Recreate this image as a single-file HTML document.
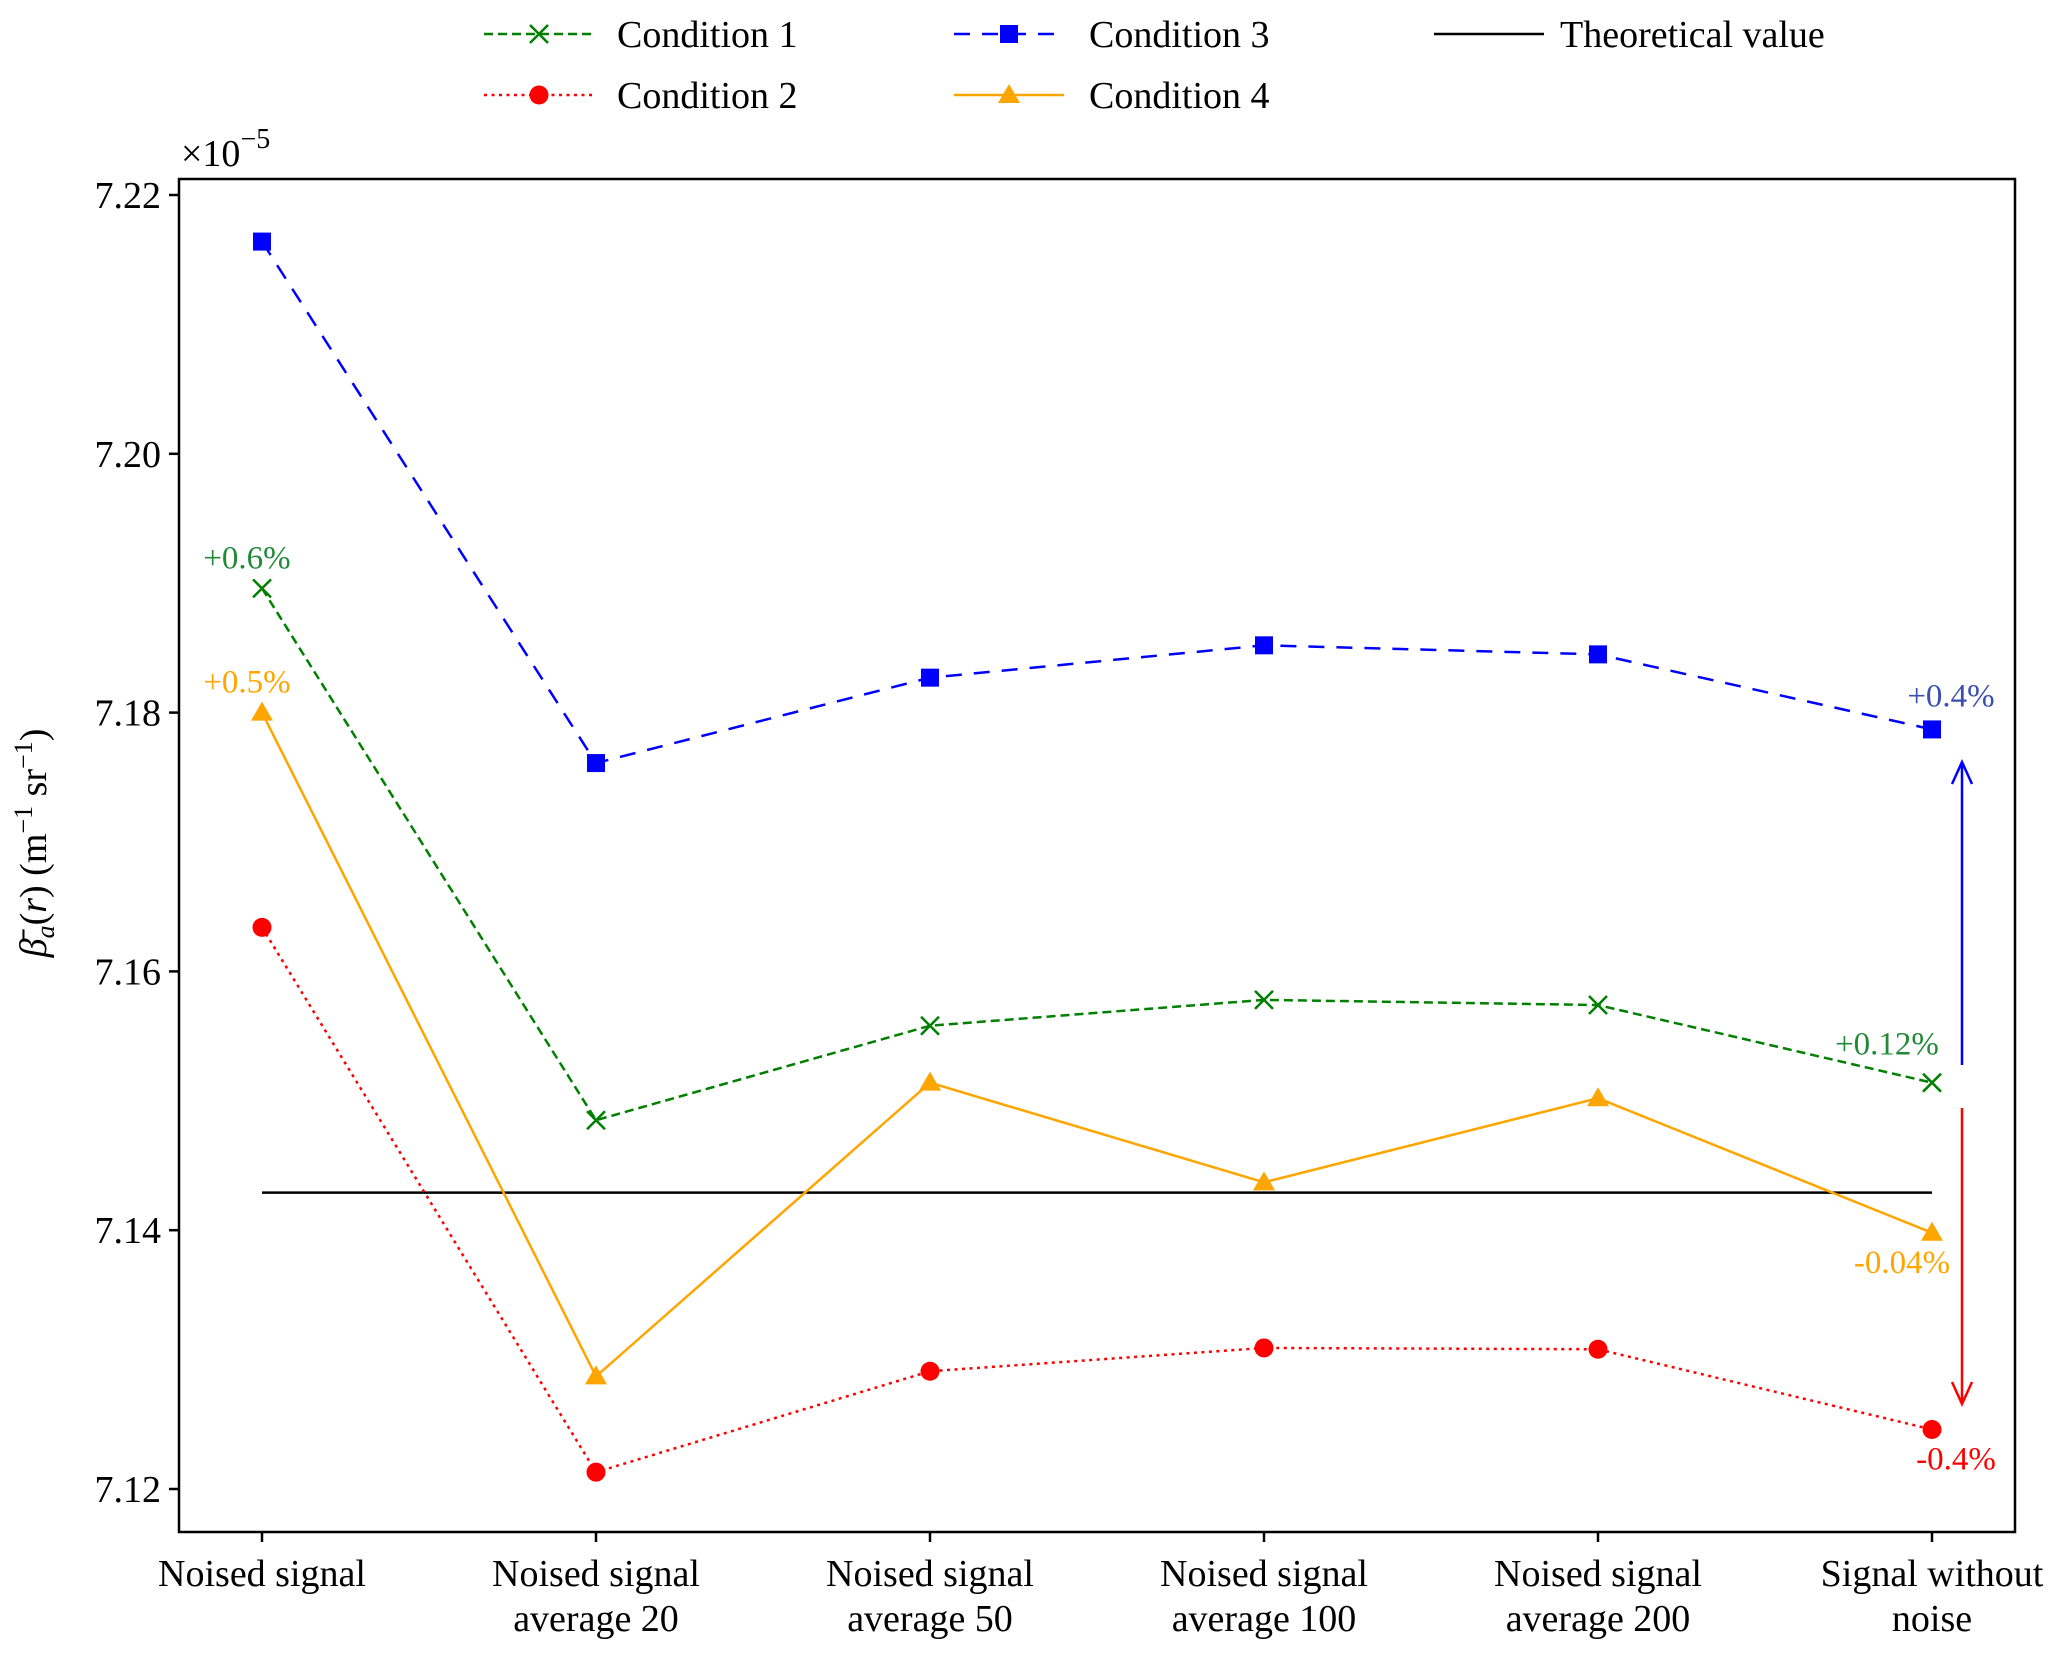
<!DOCTYPE html>
<html><head><meta charset="utf-8"><style>
html,body{margin:0;padding:0;background:#fff;}
svg{display:block;font-family:"Liberation Serif","DejaVu Serif",serif;}
</style></head><body>
<svg id="chart" width="2067" height="1656" viewBox="0 0 2067 1656" xmlns="http://www.w3.org/2000/svg">
<g id="plot"></g>
</svg>
<script>
const categories = ["Noised signal|", "Noised signal|average 20", "Noised signal|average 50", "Noised signal|average 100", "Noised signal|average 200", "Signal without|noise"];
const cond1 = [7.1896, 7.1485, 7.1558, 7.1578, 7.1574, 7.1514];
const cond2 = [7.1634, 7.1213, 7.1291, 7.1309, 7.1308, 7.1246];
const cond3 = [7.2164, 7.1761, 7.1827, 7.1852, 7.1845, 7.1787];
const cond4 = [7.1800, 7.1287, 7.1514, 7.1437, 7.1502, 7.1398];
const theoretical = 7.1429;
const yTicks = [7.12, 7.14, 7.16, 7.18, 7.20, 7.22];
const yTickLabels = ["7.12", "7.14", "7.16", "7.18", "7.20", "7.22"];

const NS = "http://www.w3.org/2000/svg";
const svg = document.getElementById("chart");
const L = 179, R = 2015, T = 179, B = 1532;
function x(i){ return 262 + i * 334; }
function y(v){ return 1489 - (v - 7.12) / 0.1 * 1294; }
function mk(tag, attrs, parent){
  const e = document.createElementNS(NS, tag);
  for (const k in attrs) e.setAttribute(k, attrs[k]);
  (parent || svg).appendChild(e);
  return e;
}
const frame = mk("rect", {x:L, y:T, width:R-L, height:B-T, fill:"none", stroke:"#000", "stroke-width":2.5});


yTicks.forEach((v, i) => {
  const t = mk("line", {x1:L-10, x2:L, y1:y(v), y2:y(v), stroke:"#000", "stroke-width":2.5});
  
  
  const lb = mk("text", {x:L-18, y:y(v)+13, "font-size":38, "text-anchor":"end"});
  lb.textContent = yTickLabels[i];
  
  
});
categories.forEach((c, i) => {
  const t = mk("line", {x1:x(i), x2:x(i), y1:B, y2:B+10, stroke:"#000", "stroke-width":2.5});
  
  
  const parts = c.split("|");
  parts.forEach((p, j) => {
    if (!p) return;
    const lb = mk("text", {x:x(i), y:1586 + j*45, "font-size":38, "text-anchor":"middle"});
    lb.textContent = p;
    
    
  });
});
const off = mk("text", {x:181, y:166, "font-size":38});
off.innerHTML = '×10<tspan dy="-18" font-size="28">−5</tspan>';


const yt = mk("text", {x:0, y:0, "font-size":38, "text-anchor":"middle", transform:"translate(46,843) rotate(-90)"});
yt.innerHTML = '<tspan font-style="italic">β̄</tspan><tspan font-style="italic" font-size="26" dy="8">a</tspan><tspan dy="-8">(</tspan><tspan font-style="italic">r</tspan>) (m<tspan dy="-14" font-size="26">−1</tspan><tspan dy="14"> sr</tspan><tspan dy="-14" font-size="26">−1</tspan><tspan dy="14">)</tspan>';


const th = mk("line", {x1:x(0), x2:x(5), y1:y(theoretical), y2:y(theoretical), stroke:"#000", "stroke-width":2.5});



function marker(type, cx, cy, color, g){
  let m;
  if (type === "x") {
    m = mk("path", {d:`M${cx-9},${cy-9}L${cx+9},${cy+9}M${cx-9},${cy+9}L${cx+9},${cy-9}`, stroke:color, "stroke-width":2.5, fill:"none"}, g);
  } else if (type === "o") {
    m = mk("circle", {cx:cx, cy:cy, r:9.5, fill:color}, g);
  } else if (type === "s") {
    m = mk("rect", {x:cx-9, y:cy-9, width:18, height:18, fill:color}, g);
  } else {
    m = mk("path", {d:`M${cx},${cy-11}L${cx+11},${cy+8}L${cx-11},${cy+8}Z`, fill:color}, g);
  }
  return m;
}
const series = [
  {name:"condition-1", data:cond1, color:"#007f00", dash:"9,5", m:"x"},
  {name:"condition-2", data:cond2, color:"#ff0000", dash:"3,4.5", m:"o"},
  {name:"condition-3", data:cond3, color:"#0000ff", dash:"16,12", m:"s"},
  {name:"condition-4", data:cond4, color:"#ffa500", dash:"", m:"^"}
];
series.forEach(s => {
  const g = mk("g", {});
  
  
  const pts = s.data.map((v, i) => x(i) + "," + y(v)).join(" ");
  const pl = mk("polyline", {points:pts, fill:"none", stroke:s.color, "stroke-width":2.5, "stroke-dasharray":s.dash}, g);
  
  
  s.data.forEach((v, i) => {
    const m = marker(s.m, x(i), y(v), s.color, g);
    
    
  });
});
function ann(txt, px, py, color, name){
  const t = mk("text", {x:px, y:py, "font-size":33, fill:color, "text-anchor":"middle"});
  t.textContent = txt;
  
  
}
ann("+0.6%", 247, y(cond1[0]) - 20, "#238a3a", "annotation-cond1-first");
ann("+0.5%", 247, y(cond4[0]) - 20, "#ffa500", "annotation-cond4-first");
ann("+0.4%", 1951, y(cond3[5]) - 23, "#3a4fb0", "annotation-cond3-last");
ann("+0.12%", 1887, y(cond1[5]) - 28, "#238a3a", "annotation-cond1-last");
ann("-0.04%", 1902, y(cond4[5]) + 40, "#ffa500", "annotation-cond4-last");
ann("-0.4%", 1956, y(cond2[5]) + 40, "#ff0000", "annotation-cond2-last");
const a1 = mk("path", {d:"M1962,1065L1962,762M1952,784L1962,762L1972,784", stroke:"#0000ff", "stroke-width":2.5, fill:"none"});


const a2 = mk("path", {d:"M1962,1108L1962,1404M1952,1382L1962,1404L1972,1382", stroke:"#ff0000", "stroke-width":2.5, fill:"none"});


const legend = mk("g", {});


const legItems = [
  {label:"Condition 1", s:series[0], lx:484, ly:34, tx:617},
  {label:"Condition 2", s:series[1], lx:484, ly:95, tx:617},
  {label:"Condition 3", s:series[2], lx:954, ly:34, tx:1089},
  {label:"Condition 4", s:series[3], lx:954, ly:95, tx:1089},
  {label:"Theoretical value", s:{color:"#000", dash:"", m:null}, lx:1434, ly:34, tx:1560}
];
legItems.forEach(it => {
  const g = mk("g", {}, legend);
  
  
  mk("line", {x1:it.lx, x2:it.lx+110, y1:it.ly, y2:it.ly, stroke:it.s.color, "stroke-width":2.5, "stroke-dasharray":it.s.dash}, g);
  if (it.s.m) marker(it.s.m, it.lx+55, it.ly, it.s.color, g);
  const t = mk("text", {x:it.tx, y:it.ly+13, "font-size":38}, g);
  t.textContent = it.label;
});
</script>
</body></html>
